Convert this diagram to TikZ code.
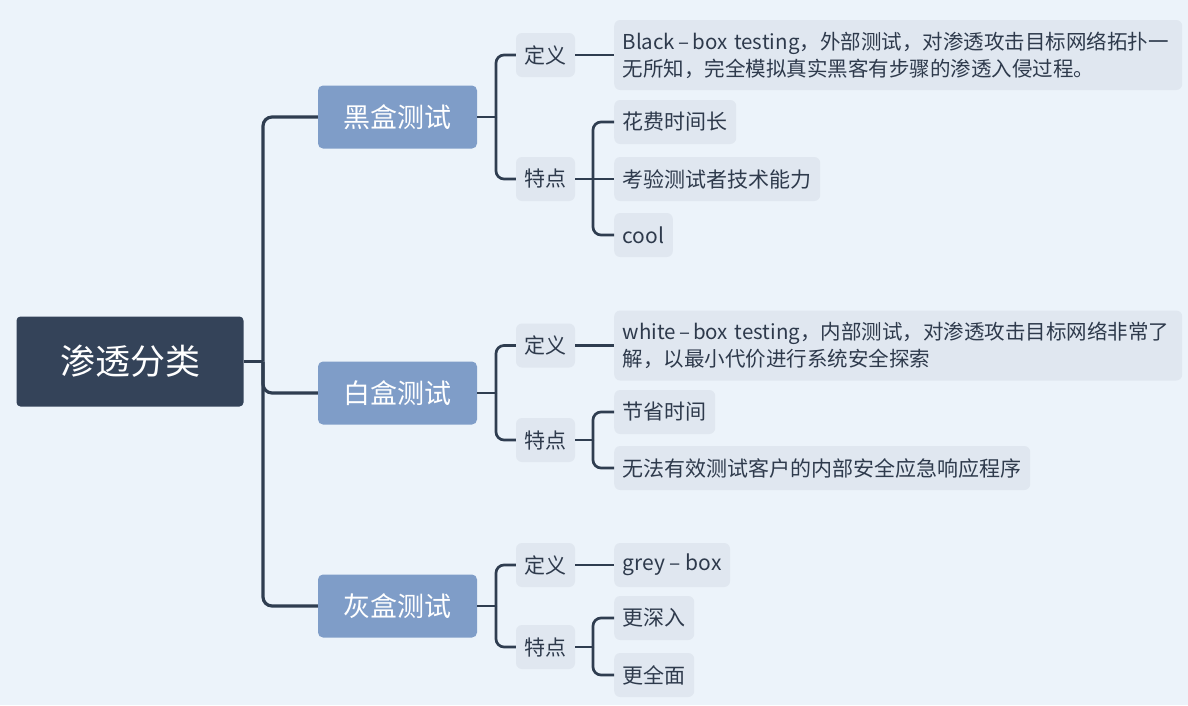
\documentclass[tikz,border=0pt]{standalone}
\usepackage{fontspec}
\setmainfont{Noto Sans CJK SC}
\definecolor{bgc}{HTML}{ECF3FA}
\definecolor{rootc}{HTML}{344359}
\definecolor{mainc}{HTML}{7F9DC8}
\definecolor{boxc}{HTML}{E0E7F0}
\definecolor{txtc}{HTML}{2E3A4C}
\definecolor{linec}{HTML}{2F3D50}
\begin{document}
\begin{tikzpicture}[x=1pt,y=-1pt,
  rootbox/.style={fill=rootc, rounded corners=4pt, minimum width=227pt, minimum height=90pt, inner sep=0pt, text=white, font=\fontsize{35}{40}\selectfont},
  mainbox/.style={fill=mainc, rounded corners=5pt, minimum width=159pt, minimum height=63pt, inner sep=0pt, text=white, font=\fontsize{27}{32}\selectfont},
  subbox/.style={fill=boxc, rounded corners=6pt, minimum width=59pt, minimum height=44pt, inner sep=0pt, text=txtc, font=\fontsize{21}{27}\selectfont},
  leafbox/.style={fill=boxc, rounded corners=6pt, minimum height=44pt, inner xsep=8.5pt, inner ysep=0pt, anchor=west, text=txtc, font=\fontsize{21}{27}\selectfont},
  longleaf/.style={leafbox, text width=551pt, align=left, minimum height=70pt, font=\fontsize{20.5}{27}\selectfont},
  conn/.style={draw=linec, line width=2.7pt, rounded corners=8pt},
  trunk/.style={draw=linec, line width=3.2pt, rounded corners=9pt}
]
\useasboundingbox (0,0) rectangle (1188,705);
\fill[bgc] (0,0) rectangle (1188,705);

% root
\node[rootbox] (root) at (130,361.5) {渗透分类};

% level 1
\node[mainbox] (black) at (397.5,117) {黑盒测试};
\node[mainbox] (white) at (397.5,393) {白盒测试};
\node[mainbox] (gray)  at (397.5,606) {灰盒测试};

% level 2
\node[subbox] (bdef)  at (545.5,55)  {定义};
\node[subbox] (bfeat) at (545.5,179) {特点};
\node[subbox] (wdef)  at (545.5,345.5) {定义};
\node[subbox] (wfeat) at (545.5,440) {特点};
\node[subbox] (gdef)  at (545.5,565) {定义};
\node[subbox] (gfeat) at (545.5,647) {特点};

% leaves
\node[longleaf] (bdefL) at (614,55) {Black\hspace{0.15em}–\hspace{0.15em}box testing，外部测试，对渗透攻击目标网络拓扑一\\无所知，完全模拟真实黑客有步骤的渗透入侵过程。};
\node[leafbox] (bf1) at (614,122) {花费时间长};
\node[leafbox] (bf2) at (614,179) {考验测试者技术能力};
\node[leafbox] (bf3) at (614,235) {cool};

\node[longleaf] (wdefL) at (614,345.5) {white\hspace{0.15em}–\hspace{0.15em}box testing，内部测试，对渗透攻击目标网络非常了\\解，以最小代价进行系统安全探索};
\node[leafbox] (wf1) at (614,412) {节省时间};
\node[leafbox] (wf2) at (614,468) {无法有效测试客户的内部安全应急响应程序};

\node[leafbox] (gdefL) at (614,565) {grey – box};
\node[leafbox] (gf1) at (614,618) {更深入};
\node[leafbox] (gf2) at (614,675) {更全面};

% junctions
\coordinate (rj) at (263,361.5);
\coordinate (bj) at (496,117);
\coordinate (wj) at (496,393);
\coordinate (gj) at (496,606);
\coordinate (bfj) at (593,179);
\coordinate (wfj) at (593,440);
\coordinate (gfj) at (593,647);

% root to level 1
\draw[conn] (root.east) -- (rj);
\draw[trunk] (black.west) -| (rj);
\draw[trunk] (white.west) -| (rj);
\draw[trunk] (gray.west) -| (rj);

% level 1 to level 2
\draw[conn] (black.east) -- (bj);
\draw[conn] (bdef.west) -| (bj);
\draw[conn] (bfeat.west) -| (bj);
\draw[conn] (white.east) -- (wj);
\draw[conn] (wdef.west) -| (wj);
\draw[conn] (wfeat.west) -| (wj);
\draw[conn] (gray.east) -- (gj);
\draw[conn] (gdef.west) -| (gj);
\draw[conn] (gfeat.west) -| (gj);

% level 2 to leaves
\draw[conn] (bdef.east) -- (bdefL.west);
\draw[conn] (bfeat.east) -- (bfj);
\draw[conn] (bf1.west) -| (bfj);
\draw[conn] (bf2.west) -- (bfj);
\draw[conn] (bf3.west) -| (bfj);

\draw[conn] (wdef.east) -- (wdefL.west);
\draw[conn] (wfeat.east) -- (wfj);
\draw[conn] (wf1.west) -| (wfj);
\draw[conn] (wf2.west) -| (wfj);

\draw[conn] (gdef.east) -- (gdefL.west);
\draw[conn] (gfeat.east) -- (gfj);
\draw[conn] (gf1.west) -| (gfj);
\draw[conn] (gf2.west) -| (gfj);
\end{tikzpicture}
\end{document}
